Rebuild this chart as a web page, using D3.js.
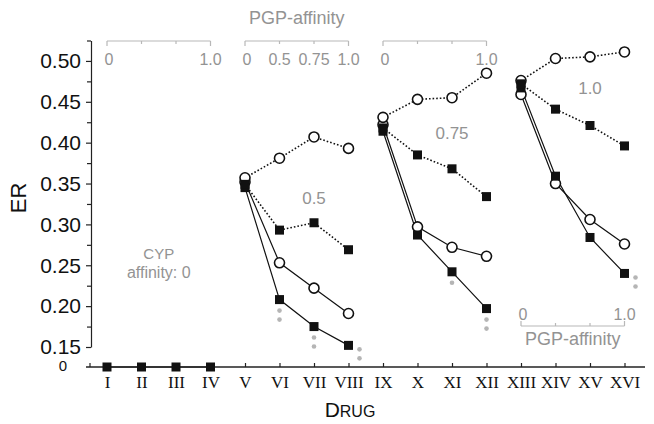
<!DOCTYPE html>
<html>
<head>
<meta charset="utf-8">
<script src="https://cdn.jsdelivr.net/npm/d3@7"></script>
<style>
body { margin: 0; background: #fff; }
</style>
</head>
<body>
<svg id="chart" width="654" height="424"></svg>
<script>
// drugs on the x axis
var drugs = ["I", "II", "III", "IV", "V", "VI", "VII", "VIII", "IX", "X", "XI", "XII", "XIII", "XIV", "XV", "XVI"];
var drugsA = ["I", "II", "III", "IV"];
var drugsB = ["V", "VI", "VII", "VIII"];
var drugsC = ["IX", "X", "XI", "XII"];
var drugsD = ["XIII", "XIV", "XV", "XVI"];

// CYP affinity 0
var erZero = [0, 0, 0, 0];
// CYP affinity 0.5
var openDottedB = [0.357, 0.381, 0.407, 0.393];
var filledDottedB = [0.349, 0.293, 0.302, 0.269];
var openSolidB = [0.352, 0.253, 0.222, 0.191];
var filledSolidB = [0.345, 0.208, 0.175, 0.152];
// CYP affinity 0.75
var openDottedC = [0.431, 0.453, 0.455, 0.485];
var filledDottedC = [0.418, 0.385, 0.368, 0.334];
var openSolidC = [0.422, 0.297, 0.272, 0.261];
var filledSolidC = [0.414, 0.287, 0.242, 0.197];
// CYP affinity 1.0
var openDottedD = [0.476, 0.503, 0.505, 0.511];
var filledDottedD = [0.472, 0.441, 0.421, 0.396];
var openSolidD = [0.459, 0.350, 0.306, 0.276];
var filledSolidD = [0.467, 0.359, 0.284, 0.240];

// significance marks (under the solid filled series)
var sigDrugs = ["VI", "VII", "VIII", "XI", "XII", "XVI"];
var sigCounts = [2, 2, 2, 1, 2, 2];
var sigSide = ["below", "below", "right", "below", "below", "right"];

var yMajor = [0.15, 0.20, 0.25, 0.30, 0.35, 0.40, 0.45, 0.50];
var yMinor = [0.175, 0.225, 0.275, 0.325, 0.375, 0.425, 0.475, 0.525];

var pgpLabelsA = ["0", "", "", "1.0"];
var pgpLabelsB = ["0", "0.5", "0.75", "1.0"];
var pgpLabelsC = ["0", "", "", "1.0"];
var pgpLabelsD = ["0", "", "", "1.0"];

var cypLabels = ["0.5", "0.75", "1.0"];
var cypLabelDrugs = ["VII", "XI", "XV"];
var cypLabelValues = [0.332, 0.412, 0.467];

var gray = "#939393", lightGray = "#b8b8b8";
var sans = "'Liberation Sans', Arial, sans-serif";
var serif = "'Liberation Serif', 'Times New Roman', serif";

var svg = d3.select("#chart").style("font-family", sans);
svg.append("rect").attr("width", 654).attr("height", 424).attr("fill", "#fff");

var x = d3.scalePoint().domain(drugs).range([107, 624.5]);
var y = d3.scaleLinear().domain([0.15, 0.525]).range([347, 40.5]);
var baseY = 367;
function yv(v) { return v === 0 ? baseY : y(v); }

// y axis
var yAxis = svg.append("g").attr("transform", "translate(91,0)")
  .call(d3.axisLeft(y).tickValues(yMajor).tickFormat(d3.format(".2f")).tickSize(5).tickSizeOuter(0).tickPadding(5));
yAxis.select(".domain").attr("stroke", "#222").attr("stroke-width", 1.2);
yAxis.selectAll(".tick line").attr("stroke", "#222").attr("stroke-width", 1.2);
yAxis.selectAll("text").attr("fill", "#111").style("font-size", "21px").style("font-family", sans);

var yMin = svg.append("g").attr("transform", "translate(91,0)")
  .call(d3.axisLeft(y).tickValues(yMinor).tickFormat("").tickSize(4).tickSizeOuter(0));
yMin.select(".domain").remove();
yMin.selectAll(".tick line").attr("stroke", "#222").attr("stroke-width", 1.2);

// x axis with the break at 0
svg.append("line").attr("x1", 86).attr("x2", 645).attr("y1", baseY).attr("y2", baseY)
  .attr("stroke", "#222").attr("stroke-width", 1.3);
svg.append("line").attr("x1", 90).attr("x2", 90).attr("y1", baseY - 4).attr("y2", baseY)
  .attr("stroke", "#222").attr("stroke-width", 1.2);
svg.append("text").attr("x", 63).attr("y", 371).attr("text-anchor", "middle")
  .style("font-size", "15px").attr("fill", "#111").text("0");

var xAxis = svg.append("g").attr("transform", "translate(0," + baseY + ")")
  .call(d3.axisBottom(x).tickSize(-4).tickSizeOuter(0).tickPadding(9));
xAxis.select(".domain").remove();
xAxis.selectAll(".tick line").attr("stroke", "#222").attr("stroke-width", 1.2);
xAxis.selectAll("text").attr("fill", "#111").style("font-size", "17px").style("font-family", serif);

// axis titles
svg.append("text").attr("transform", "translate(26,198) rotate(-90)").attr("text-anchor", "middle")
  .style("font-size", "22px").attr("fill", "#111").text("ER");
var dt = svg.append("text").attr("x", 350).attr("y", 417).attr("text-anchor", "middle").attr("fill", "#111");
dt.append("tspan").style("font-size", "21px").text("D");
dt.append("tspan").style("font-size", "16px").text("RUG");

// PGP brackets
function bracket(list, labels, lineY, dir, labelY) {
  var g = svg.append("g");
  g.append("line").attr("x1", x(list[0])).attr("x2", x(list[list.length - 1]))
    .attr("y1", lineY).attr("y2", lineY).attr("stroke", lightGray).attr("stroke-width", 1.2);
  list.forEach(function (d, i) {
    var len = (i === 0 || i === list.length - 1) ? 5 : 3;
    g.append("line").attr("x1", x(d)).attr("x2", x(d)).attr("y1", lineY).attr("y2", lineY + dir * len)
      .attr("stroke", lightGray).attr("stroke-width", 1.2);
    if (labels[i])
      g.append("text").attr("x", x(d) + (i === 0 ? 2 : 0)).attr("y", labelY).attr("text-anchor", "middle")
        .style("font-size", "16px").attr("fill", gray).text(labels[i]);
  });
}
bracket(drugsA, pgpLabelsA, 41, 1, 65);
bracket(drugsB, pgpLabelsB, 41, 1, 65);
bracket(drugsC, pgpLabelsC, 41, 1, 65);
bracket(drugsD, pgpLabelsD, 326, -1, 320);

svg.append("text").attr("x", (x("V") + x("VIII")) / 2).attr("y", 24).attr("text-anchor", "middle")
  .style("font-size", "18px").attr("fill", gray).text("PGP-affinity");
svg.append("text").attr("x", (x("XIII") + x("XVI")) / 2).attr("y", 345).attr("text-anchor", "middle")
  .style("font-size", "18px").attr("fill", gray).text("PGP-affinity");

// CYP labels
svg.append("text").attr("x", (x("II") + x("III")) / 2).attr("y", 259).attr("text-anchor", "middle")
  .style("font-size", "15px").attr("fill", gray).text("CYP");
svg.append("text").attr("x", (x("II") + x("III")) / 2).attr("y", 278).attr("text-anchor", "middle")
  .style("font-size", "16px").attr("fill", gray).text("affinity: 0");
cypLabels.forEach(function (t, i) {
  svg.append("text").attr("x", x(cypLabelDrugs[i])).attr("y", y(cypLabelValues[i]) + 6)
    .attr("text-anchor", "middle").style("font-size", "17px").attr("fill", gray).text(t);
});

// series
var line = d3.line().x(function (d) { return x(d.drug); }).y(function (d) { return yv(d.v); });
var series = [
  [drugsA, erZero, false, false],
  [drugsB, openSolidB, false, true], [drugsB, filledSolidB, false, false],
  [drugsB, openDottedB, true, true], [drugsB, filledDottedB, true, false],
  [drugsC, openSolidC, false, true], [drugsC, filledSolidC, false, false],
  [drugsC, openDottedC, true, true], [drugsC, filledDottedC, true, false],
  [drugsD, openSolidD, false, true], [drugsD, filledSolidD, false, false],
  [drugsD, openDottedD, true, true], [drugsD, filledDottedD, true, false]
];
series.forEach(function (s) {
  var pts = s[0].map(function (d, i) { return { drug: d, v: s[1][i] }; });
  svg.append("path").datum(pts).attr("d", line).attr("fill", "none").attr("stroke", "#111")
    .attr("stroke-width", s[2] ? 1.6 : 1.2).attr("stroke-dasharray", s[2] ? "1.6,2" : null);
});
series.forEach(function (s) {
  var pts = s[0].map(function (d, i) { return { drug: d, v: s[1][i] }; });
  if (s[3]) {
    svg.selectAll(null).data(pts).enter().append("circle")
      .attr("cx", function (d) { return x(d.drug); }).attr("cy", function (d) { return yv(d.v); })
      .attr("r", 5).attr("fill", "#fff").attr("stroke", "#111").attr("stroke-width", 1.6);
  } else {
    svg.selectAll(null).data(pts).enter().append("rect")
      .attr("x", function (d) { return x(d.drug) - 4.5; }).attr("y", function (d) { return yv(d.v) - 4.5; })
      .attr("width", 9).attr("height", 9).attr("fill", "#111");
  }
});

// significance dots
var allFilledSolid = drugsB.concat(drugsC, drugsD);
var allFilledVals = filledSolidB.concat(filledSolidC, filledSolidD);
sigDrugs.forEach(function (d, i) {
  var v = allFilledVals[allFilledSolid.indexOf(d)];
  var cx = x(d), cy = y(v);
  for (var k = 0; k < sigCounts[i]; k++) {
    var px = sigSide[i] === "right" ? cx + 11 : cx;
    var py = sigSide[i] === "right" ? cy + 4 + k * 9 : cy + 11 + k * 9;
    svg.append("circle").attr("cx", px).attr("cy", py).attr("r", 2.3).attr("fill", "#b5b5b5");
  }
});
</script>
</body>
</html>
